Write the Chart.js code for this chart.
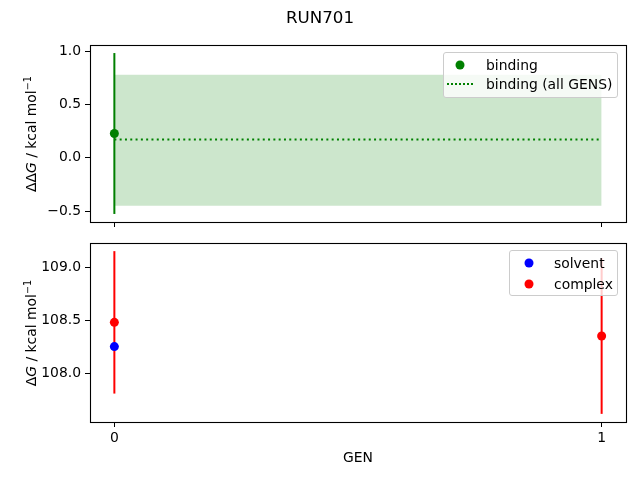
<!DOCTYPE html>
<html>
<head>
<meta charset="utf-8">
<script src="https://cdn.jsdelivr.net/npm/chart.js@4/dist/chart.umd.min.js"></script>
<style>
  html, body { margin: 0; padding: 0; background: #fff; }
  #wrap { position: relative; width: 640px; height: 480px; font-family: "DejaVu Sans", sans-serif; color: #000; }
  canvas { position: absolute; left: 0; top: 0; }
  .txt { position: absolute; white-space: nowrap; font-size: 13.9px; line-height: 16px; }
  .ylab { transform: translate(-50%, -50%) rotate(-90deg); }
  .legend { position: absolute; border: 1px solid #cccccc; border-radius: 3px; background: rgba(255,255,255,0.8); box-sizing: border-box; }
  .dot { position: absolute; width: 9px; height: 9px; border-radius: 50%; transform: translate(-50%, -50%); }
  .dash { position: absolute; height: 0; border-top: 2px dotted green; transform: translateY(-50%); }
  sup { font-size: 9.7px; vertical-align: 0; position: relative; top: -5px; }
</style>
</head>
<body>
<div id="wrap">
  <canvas id="c1" width="640" height="480"></canvas>
  <canvas id="c2" width="640" height="480"></canvas>
  <div class="txt" style="left:0;width:640px;text-align:center;top:7px;font-size:16.7px;line-height:20px;">RUN701</div>
  <div class="txt ylab" style="left:32px;top:134px;">ΔΔ<i>G</i> / kcal mol<sup>−1</sup></div>
  <div class="txt ylab" style="left:32px;top:333px;">Δ<i>G</i> / kcal mol<sup>−1</sup></div>
  <div class="txt" style="left:358px;top:457px;transform:translate(-50%,-50%);">GEN</div>

  <div class="legend" style="left:443px;top:52px;width:175px;height:46px;"></div>
  <div class="dot" style="left:460px;top:65px;background:green;"></div>
  <div class="txt" style="left:486px;top:57px;">binding</div>
  <div class="dash" style="left:447px;top:84px;width:26px;"></div>
  <div class="txt" style="left:486px;top:76px;">binding (all GENS)</div>

  <div class="legend" style="left:509px;top:250px;width:109px;height:46px;"></div>
  <div class="dot" style="left:529px;top:263px;background:blue;"></div>
  <div class="txt" style="left:554px;top:255px;">solvent</div>
  <div class="dot" style="left:529px;top:284px;background:red;"></div>
  <div class="txt" style="left:554px;top:276px;">complex</div>
</div>
<script>
// ---- data ----
const GENS = [0, 1];
const X_TICKS = [0, 1];
const BINDING = [0.228, null];
const BINDING_ERR = [0.753, null];
const BINDING_ALL = 0.172;
const BAND_HI = 0.778;
const BAND_LO = -0.448;
const SOLVENT = [108.255, null];
const COMPLEX = [108.4825, 108.354];
const COMPLEX_ERR = [0.669, 0.731];
const TOP_Y_TICKS = [-0.5, 0.0, 0.5, 1.0];
const BOTTOM_Y_TICKS = [108.0, 108.5, 109.0];

Chart.defaults.color = '#000';
Chart.defaults.font.family = '"DejaVu Sans", sans-serif';
Chart.defaults.font.size = 13.9;
Chart.defaults.animation = false;

const fmt = v => v.toFixed(1).replace('-', '\u2212');

function margins(lo, hi, m) { const r = hi - lo; return [lo - r * m, hi + r * m]; }

const frame = {
  id: 'frame',
  afterDatasetsDraw(chart) {
    const a = chart.chartArea, ctx = chart.ctx;
    ctx.save();
    ctx.strokeStyle = '#000';
    ctx.lineWidth = 1.1;
    ctx.strokeRect(Math.round(a.left) + 0.5, Math.round(a.top) + 0.5, Math.round(a.right - a.left), Math.round(a.bottom - a.top));
    ctx.restore();
  }
};

function pts(xs, ys) { return xs.map((x, i) => ({x, y: ys[i]})).filter(p => p.y !== null); }
function errSets(vals, errs, color, order) {
  const out = [];
  GENS.forEach((g, i) => {
    if (vals[i] === null) return;
    out.push({
      type: 'line', data: [{x: g, y: vals[i] - errs[i]}, {x: g, y: vals[i] + errs[i]}],
      borderColor: color, borderWidth: 2, pointRadius: 0, showLine: true, fill: false, order
    });
  });
  return out;
}

function xScale(showLabels) {
  const [mn, mx] = margins(GENS[0], GENS[GENS.length - 1], 0.05);
  return {
    type: 'linear', min: mn, max: mx,
    afterBuildTicks: s => { s.ticks = X_TICKS.map(v => ({value: v})); },
    afterFit: s => { s.height = showLabels ? 30 : 18; },
    ticks: { display: showLabels, padding: 3, callback: v => String(v), maxRotation: 0 },
    grid: { drawOnChartArea: false, drawTicks: true, tickLength: 5, color: '#000', lineWidth: 1 },
    border: { display: false }
  };
}
function yScale(mn, mx, ticks) {
  return {
    type: 'linear', min: mn, max: mx,
    afterBuildTicks: s => { s.ticks = ticks.map(v => ({value: v})); },
    afterFit: s => { s.width = 90; },
    ticks: { padding: 4, callback: v => fmt(v) },
    grid: { drawOnChartArea: false, drawTicks: true, tickLength: 5, color: '#000', lineWidth: 1 },
    border: { display: false }
  };
}

// ---- top chart ----
const topLo = Math.min(...BINDING.map((v, i) => v === null ? Infinity : v - BINDING_ERR[i]), BAND_LO);
const topHi = Math.max(...BINDING.map((v, i) => v === null ? -Infinity : v + BINDING_ERR[i]), BAND_HI);
const [tMin, tMax] = margins(topLo, topHi, 0.05);

new Chart(document.getElementById('c1'), {
  type: 'line',
  data: {
    datasets: [
      { label: 'binding', data: pts(GENS, BINDING), showLine: false, pointRadius: 4.5, pointHoverRadius: 4.5,
        backgroundColor: 'green', borderColor: 'green', pointBorderWidth: 0, order: 0 },
      ...errSets(BINDING, BINDING_ERR, 'green', 1),
      { label: 'binding (all GENS)', data: GENS.map(g => ({x: g, y: BINDING_ALL})), borderColor: 'green',
        borderWidth: 2, borderDash: [2, 3.3], pointRadius: 0, fill: false, order: 2 },
      { label: 'band', data: GENS.map(g => ({x: g, y: BAND_HI})), borderWidth: 0,
        pointRadius: 0, fill: '+1', backgroundColor: 'rgba(0,128,0,0.2)', borderColor: 'rgba(0,128,0,0)', order: 3 },
      { label: 'bandlo', data: GENS.map(g => ({x: g, y: BAND_LO})), borderWidth: 0,
        pointRadius: 0, fill: false, borderColor: 'rgba(0,128,0,0)', order: 4 }
    ]
  },
  options: {
    responsive: false,
    layout: { padding: { top: 45, right: 14, bottom: 240, left: 0 } },
    plugins: { legend: { display: false }, tooltip: { enabled: false } },
    scales: { x: xScale(false), y: yScale(tMin, tMax, TOP_Y_TICKS) }
  },
  plugins: [frame]
});

// ---- bottom chart ----
const allLo = [], allHi = [];
COMPLEX.forEach((x, i) => { if (x !== null) { allLo.push(x - COMPLEX_ERR[i]); allHi.push(x + COMPLEX_ERR[i]); } });
SOLVENT.forEach(x => { if (x !== null) { allLo.push(x); allHi.push(x); } });
const [bMin, bMax] = margins(Math.min(...allLo), Math.max(...allHi), 0.05);

new Chart(document.getElementById('c2'), {
  type: 'line',
  data: {
    datasets: [
      { label: 'solvent', data: pts(GENS, SOLVENT), showLine: false, pointRadius: 4.5, pointHoverRadius: 4.5,
        backgroundColor: 'blue', borderColor: 'blue', pointBorderWidth: 0, order: 0 },
      { label: 'complex', data: pts(GENS, COMPLEX), showLine: false, pointRadius: 4.5, pointHoverRadius: 4.5,
        backgroundColor: 'red', borderColor: 'red', pointBorderWidth: 0, order: 1 },
      ...errSets(COMPLEX, COMPLEX_ERR, 'red', 2)
    ]
  },
  options: {
    responsive: false,
    layout: { padding: { top: 243, right: 14, bottom: 28, left: 0 } },
    plugins: { legend: { display: false }, tooltip: { enabled: false } },
    scales: { x: xScale(true), y: yScale(bMin, bMax, BOTTOM_Y_TICKS) }
  },
  plugins: [frame]
});
</script>
</body>
</html>
